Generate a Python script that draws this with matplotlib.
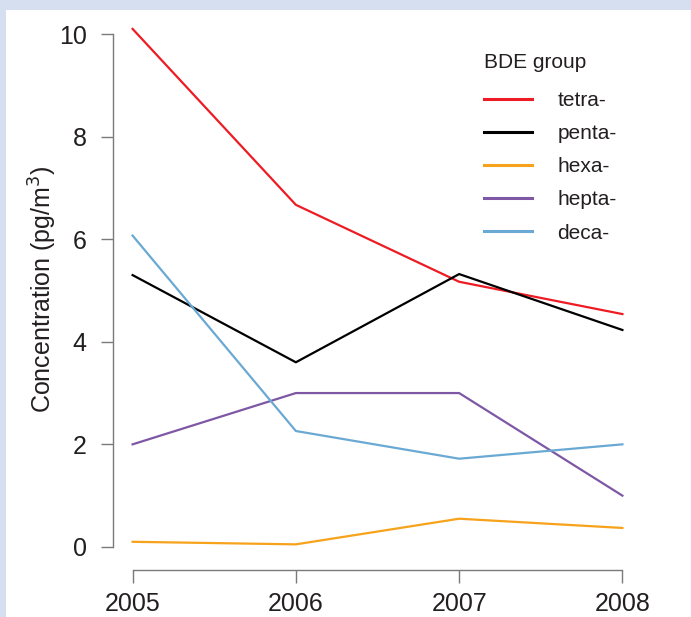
import matplotlib
matplotlib.use("Agg")
import matplotlib.pyplot as plt
from matplotlib.patches import Rectangle

plt.rcParams["font.family"] = ["Liberation Sans", "DejaVu Sans"]

years = [2005, 2006, 2007, 2008]
tetra = [10.1, 6.67, 5.17, 4.54]
penta = [5.3, 3.6, 5.32, 4.23]
hexa = [0.1, 0.05, 0.55, 0.37]
hepta = [2.0, 3.0, 3.0, 1.0]
deca = [6.07, 2.26, 1.72, 2.0]

series = [
    ("tetra-", tetra, "#ED1C24"),
    ("penta-", penta, "#000000"),
    ("hexa-", hexa, "#F7A21B"),
    ("hepta-", hepta, "#7E57A5"),
    ("deca-", deca, "#6AA9D3"),
]

text_col = "#231F20"
axis_col = "#7a7a7a"

W, H = 691, 617
fig = plt.figure(figsize=(W / 100, H / 100), dpi=100)
fig.patch.set_facecolor("#D6DFF0")
# white panel
fig.add_artist(Rectangle((6 / W, 0), 1, (H - 10) / H, transform=fig.transFigure,
                         facecolor="white", edgecolor="none", zorder=0))

# axes box placed in pixels (R style: 4% padding on x)
left, right = 113, 642
bottom, top = 570, 8.4
ax = fig.add_axes([left / W, (H - bottom) / H, (right - left) / W, (bottom - top) / H])
ax.set_facecolor("none")

for name, vals, col in series:
    ax.plot(years, vals, color=col, lw=1.6, label=name)

ax.set_xlim(2005 - 0.12, 2008 + 0.12)
ax.set_ylim(-0.45, 10.5)

for s in ["top", "right"]:
    ax.spines[s].set_visible(False)
for s in ["left", "bottom"]:
    ax.spines[s].set_color(axis_col)
    ax.spines[s].set_linewidth(1.0)
ax.spines["left"].set_bounds(0, 10)
ax.spines["bottom"].set_bounds(2005, 2008)

ax.set_xticks(years)
ax.set_xticklabels([str(y) for y in years])
ax.set_yticks([0, 2, 4, 6, 8, 10])
ax.tick_params(axis="both", direction="out", length=9, width=1.0, color=axis_col,
               labelsize=18, labelcolor=text_col)
ax.tick_params(axis="x", pad=7)
ax.tick_params(axis="y", pad=10)

ax.set_ylabel("Concentration (pg/m$^3$)", fontsize=18, color=text_col, labelpad=0)

leg = ax.legend(title="BDE group", loc="upper left", bbox_to_anchor=(0.681, 0.94),
                frameon=False, fontsize=15, title_fontsize=15,
                handlelength=2.3, handletextpad=1.25, labelspacing=0.68,
                borderpad=0)
leg._legend_box.align = "left"
leg._legend_box.sep = 14
for t in leg.get_texts():
    t.set_color(text_col)
leg.get_title().set_color(text_col)
for l in leg.get_lines():
    l.set_linewidth(2.2)

fig.savefig("out.png", dpi=100, facecolor=fig.get_facecolor())
